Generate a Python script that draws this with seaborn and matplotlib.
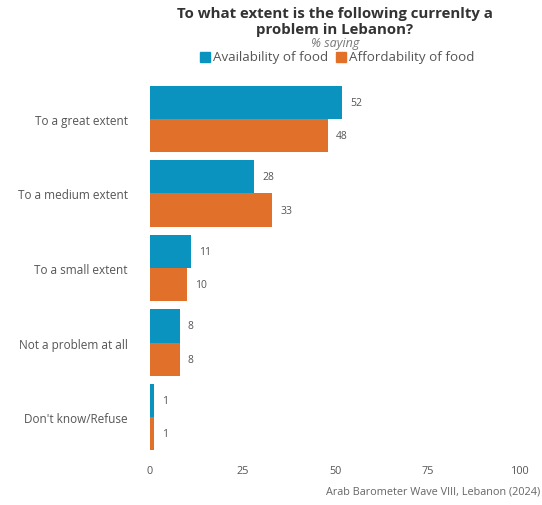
import matplotlib
matplotlib.use("Agg")
import matplotlib.pyplot as plt
import seaborn as sns
import pandas as pd
from matplotlib.patches import Rectangle

categories = ["To a great extent", "To a medium extent", "To a small extent",
              "Not a problem at all", "Don't know/Refuse"]
availability = [52, 28, 11, 8, 1]
affordability = [48, 33, 10, 8, 1]
series_names = ["Availability of food", "Affordability of food"]
x_ticks = [0, 25, 50, 75, 100]

colors = {"Availability of food": "#0b93bf", "Affordability of food": "#e0702a"}

df = pd.DataFrame({
    "category": categories * 2,
    "value": availability + affordability,
    "series": [series_names[0]] * len(categories) + [series_names[1]] * len(categories),
})

sns.set_style("white")
plt.rcParams["font.family"] = ["Open Sans", "DejaVu Sans"]

fig = plt.figure(figsize=(5.42, 5.06), dpi=100)
ax = fig.add_axes([0.2768, 0.1002, 0.6827, 0.7364])

sns.barplot(data=df, y="category", x="value", hue="series", order=categories,
            hue_order=series_names, palette=colors, orient="h", width=0.89,
            saturation=1, legend=False, linewidth=0, ax=ax)

for container in ax.containers:
    ax.bar_label(container, fmt="%g", padding=6, fontsize=7.5, color="#555555")

ax.set_xlim(0, 100)
ax.set_ylim(len(categories) - 0.5, -0.5)
ax.set_xticks(x_ticks)
ax.set_xticklabels([str(t) for t in x_ticks])
ax.set_xlabel("")
ax.set_ylabel("")
ax.tick_params(axis="x", length=0, labelsize=7.8, labelcolor="#555555", pad=8)
ax.tick_params(axis="y", length=0, labelsize=8.5, labelcolor="#555555", pad=16)
for s in ax.spines.values():
    s.set_visible(False)

cx = 0.2768 + 0.6827 / 2
fig.text(cx, 1 - 14 / 506, "To what extent is the following currenlty a",
         ha="center", va="center", fontsize=10.8, fontweight="bold", color="#333333")
fig.text(cx, 1 - 30 / 506, "problem in Lebanon?",
         ha="center", va="center", fontsize=10.8, fontweight="bold", color="#333333")
fig.text(cx, 1 - 43 / 506, "% saying", ha="center", va="center",
         fontsize=9, style="italic", color="#777777")

# legend row
leg_y = 1 - 58 / 506
sq = 10 / 542
x0 = 200 / 542
fig.add_artist(Rectangle((x0, leg_y - 5 / 506), sq, 10 / 506,
                         transform=fig.transFigure, color=colors[series_names[0]]))
fig.text(x0 + 13 / 542, leg_y, series_names[0], ha="left", va="center",
         fontsize=9.6, color="#555555")
x1 = 336 / 542
fig.add_artist(Rectangle((x1, leg_y - 5 / 506), sq, 10 / 506,
                         transform=fig.transFigure, color=colors[series_names[1]]))
fig.text(x1 + 13 / 542, leg_y, series_names[1], ha="left", va="center",
         fontsize=9.6, color="#555555")

fig.text(540 / 542, 1 - 492 / 506, "Arab Barometer Wave VIII, Lebanon (2024)",
         ha="right", va="center", fontsize=7.8, color="#666666")

fig.savefig("out.png", dpi=100)
